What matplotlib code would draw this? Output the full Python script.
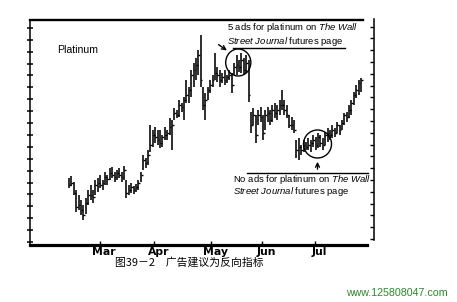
import numpy as np
import matplotlib
matplotlib.use("Agg")
import matplotlib.pyplot as plt
from matplotlib.patches import Ellipse
from matplotlib.transforms import ScaledTranslation

plt.rcParams['mathtext.fontset'] = 'custom'
plt.rcParams['mathtext.it'] = 'Liberation Sans:italic'
plt.rcParams['mathtext.rm'] = 'Liberation Sans'

# ---- data (daily bars, price units) ----
highs = [67,69,63,55,50,45,40,47,55,60,
         55,65,67,70,65,73,70,77,78,73,
         75,77,73,79,65,60,62,59,61,65,
         73,90,87,95,120,115,118,115,115,110,
         118,115,127,125,137,135,145,142,148,165,
         158,175,182,187,195,210,158,152,158,165,
         170,192,178,175,172,175,170,175,172,182,
         190,185,192,187,190,185,133,137,130,135,
         138,130,135,138,135,140,142,140,145,155,
         145,140,130,128,125,105,107,100,105,103,
         107,105,110,108,112,110,107,113,117,115,
         120,117,123,120,125,132,133,140,145,153,
         160,165,167]
lows = [57,59,50,33,35,30,25,31,40,45,
        42,50,53,57,55,60,60,65,67,63,
        65,67,63,65,47,50,52,51,53,55,
        63,75,77,80,93,98,102,100,97,98,
        105,105,110,95,125,127,128,133,125,142,
        142,148,158,165,170,158,135,125,145,152,
        158,165,163,158,162,160,162,165,152,170,
        170,173,172,170,172,143,112,120,102,120,
        123,105,115,123,120,123,127,125,130,135,
        130,127,117,115,112,87,85,90,93,95,
        95,93,98,95,97,98,95,100,103,105,
        107,108,112,110,115,120,123,127,130,140,
        147,150,153]
closes = [60,62,52,38,40,35,30,42,50,50,
          48,60,62,60,62,68,66,72,70,68,
          72,70,68,75,52,55,58,55,58,62,
          70,85,82,90,100,110,108,105,102,108,
          110,112,118,120,132,130,140,138,145,150,
          155,170,175,180,190,165,140,145,155,160,
          165,172,170,165,168,165,168,170,160,178,
          180,178,185,175,182,150,120,130,110,130,
          128,112,130,132,125,135,132,135,140,140,
          135,130,120,120,115,95,98,95,100,98,
          100,102,105,100,108,102,100,110,112,110,
          115,112,120,115,122,130,128,135,142,150,
          155,162,165]
month_labels = ['Mar', 'Apr', 'May', 'Jun', 'Jul']
month_pos = [13.0, 35.6, 59.4, 80.8, 102.9]   # bar index where each month starts

title_text = 'Platinum'
note_top = [r'5 ads for platinum on $\it{The\ Wall}$',
            r'$\it{Street\ Journal}$ futures page']
note_bot = [r'No ads for platinum on $\it{The\ Wall}$',
            r'$\it{Street\ Journal}$ futures page']
caption = '图39－2　广告建议为反向指标'
watermark = 'www.125808047.com'

# ---- figure ----
W, H = 457, 302
fig = plt.figure(figsize=(W/100, H/100), dpi=100)
fig.patch.set_facecolor('white')
ax = fig.add_axes([30/W, 57/H, 344/W, 225/H])
x = np.arange(len(highs))
ax.set_xlim(-16.3, 127.4)
ax.set_ylim(0, 225)

ax.vlines(x, lows, highs, color='black', lw=1.15)
ax.hlines(closes, x, x + 0.75, color='black', lw=1.0)

# spines
for s in ['left', 'top', 'bottom', 'right']:
    ax.spines[s].set_color('black')
ax.spines['right'].set_visible(False)
ax.spines['left'].set_linewidth(1.1)
ax.spines['top'].set_linewidth(1.7)
ax.spines['top'].set_bounds(-16.3, 123.0)
ax.spines['bottom'].set_linewidth(2.3)
ax.spines['bottom'].set_bounds(-16.3, 124.3)

ax.set_yticks(np.arange(3, 220, 11.9))
ax.set_yticklabels([])
ax.tick_params(axis='y', direction='inout', length=5, width=1.1, color='black')

ax.set_xticks(month_pos)
ax.set_xticklabels(month_labels, family=['Liberation Sans Narrow', 'DejaVu Sans'],
                   fontweight='bold', fontsize=7.8)
ax.tick_params(axis='x', direction='in', length=3, width=1.0, pad=1.5)
for lab in ax.get_xticklabels():
    lab.set_transform(lab.get_transform() + ScaledTranslation(4/100, 0, fig.dpi_scale_trans))

# right axis
ax2 = ax.twinx()
ax2.set_ylim(0, 225)
for s in ['left', 'top', 'bottom']:
    ax2.spines[s].set_visible(False)
ax2.spines['right'].set_bounds(5, 226)
ax2.spines['right'].set_linewidth(1.1)
ax2.set_yticks(np.arange(6, 220, 11.8))
ax2.set_yticklabels([])
ax2.tick_params(axis='y', direction='in', length=3, width=1.0)

# texts
ax.text(-5.0, 195, title_text, fontsize=7.6, family='Liberation Sans', va='center', ha='left')
ax.text(66.1, 217, note_top[0], fontsize=6.8, family='Liberation Sans', va='center', ha='left', clip_on=False)
ax.text(66.1, 204, note_top[1], fontsize=6.8, family='Liberation Sans', va='center', ha='left', clip_on=False)
ax.plot([68.6, 115.1], [197, 197], color='black', lw=1.0)
ax.annotate('', xy=(66.9, 193), xytext=(61.5, 202),
            arrowprops=dict(arrowstyle='->', color='black', lw=1.0, mutation_scale=7))
ax.add_patch(Ellipse((70.7, 182.5), 10.5, 27, fill=False, ec='black', lw=1.0))

ax.text(68.6, 66, note_bot[0], fontsize=6.8, family='Liberation Sans', va='center', ha='left', clip_on=False)
ax.text(68.6, 53, note_bot[1], fontsize=6.8, family='Liberation Sans', va='center', ha='left', clip_on=False)
ax.plot([74.5, 124.7], [72, 72], color='black', lw=1.0, clip_on=False)
ax.annotate('', xy=(103.8, 86), xytext=(103.8, 73),
            arrowprops=dict(arrowstyle='->', color='black', lw=1.0, mutation_scale=7))
ax.add_patch(Ellipse((103.8, 101), 11.7, 28, fill=False, ec='black', lw=1.0))

fig.text(115/W, 1 - 262/H, caption, fontsize=7.8,
         family=['Noto Sans CJK SC', 'DejaVu Sans'], va='center', ha='left')
fig.text(448/W, 1 - 293/H, watermark, fontsize=7.7, family='Liberation Sans',
         color='#2a8a2a', va='center', ha='right')

fig.savefig('out.png', dpi=100, facecolor='white')
